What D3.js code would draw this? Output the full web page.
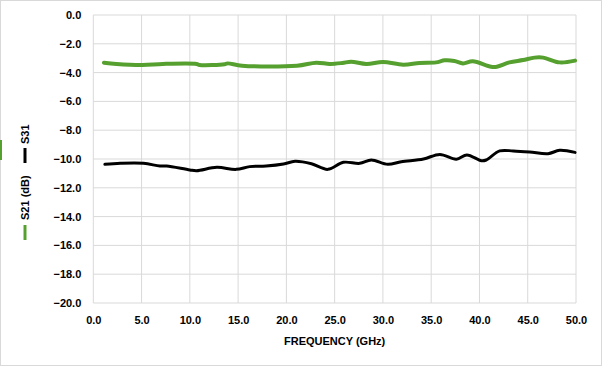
<!DOCTYPE html>
<html><head><meta charset="utf-8">
<script src="https://cdn.jsdelivr.net/npm/d3@7"></script>
<style>body{margin:0;background:#fff}svg{display:block}</style>
</head><body>
<svg id="c" width="602" height="366"></svg>
<script>
const xTicks = [0,5,10,15,20,25,30,35,40,45,50];
const yTicks = [0,-2,-4,-6,-8,-10,-12,-14,-16,-18,-20];
const s21Freq = [1.1,2.4,5.1,7.2,10.7,11.0,13.6,13.9,15.4,21.1,23.1,24.5,25.8,26.7,28.3,30.0,32.1,33.8,35.5,36.4,37.4,38.3,39.3,41.2,41.8,43.1,44.5,45.7,46.6,48.3,49.9];
const s21Val  = [-3.31,-3.40,-3.47,-3.40,-3.40,-3.47,-3.42,-3.36,-3.52,-3.52,-3.31,-3.40,-3.33,-3.24,-3.40,-3.26,-3.45,-3.33,-3.29,-3.15,-3.19,-3.36,-3.22,-3.59,-3.59,-3.29,-3.13,-2.96,-2.96,-3.29,-3.17];
const s31Freq = [1.2,2.8,5.2,6.9,7.6,10.0,10.7,12.8,14.8,16.2,17.9,19.7,20.9,22.6,24.3,25.9,27.6,28.8,30.5,31.9,34.2,35.9,37.6,38.7,40.2,40.7,42.1,43.5,45.2,47.1,48.3,49.9];
const s31Val  = [-10.37,-10.30,-10.30,-10.49,-10.49,-10.76,-10.81,-10.58,-10.72,-10.53,-10.49,-10.35,-10.16,-10.33,-10.72,-10.23,-10.30,-10.07,-10.37,-10.19,-10.00,-9.68,-10.02,-9.72,-10.12,-10.07,-9.44,-9.44,-9.51,-9.63,-9.40,-9.54];

const svg = d3.select('#c');
const W=602,H=366;
svg.append('rect').attr('x',0.5).attr('y',0.5).attr('width',W-1).attr('height',H-1).attr('fill','#fff').attr('stroke','#d9d9d9');
const L=93.3,R=576,T=15,B=303;
const x=d3.scaleLinear().domain([0,50]).range([L,R]);
const y=d3.scaleLinear().domain([-20,0]).range([B,T]);
const font="'Liberation Sans', Arial, sans-serif";

const g=svg.append('g');
g.selectAll('.vg').data(xTicks).join('line').attr('x1',d=>x(d)).attr('x2',d=>x(d)).attr('y1',T).attr('y2',B).attr('stroke','#d9d9d9').attr('stroke-width',1);
g.selectAll('.hg').data(yTicks).join('line').attr('y1',d=>y(d)).attr('y2',d=>y(d)).attr('x1',L).attr('x2',R).attr('stroke','#d9d9d9').attr('stroke-width',1);

const xa=svg.append('g').attr('transform',`translate(0,${B})`).call(d3.axisBottom(x).tickValues(xTicks).tickSize(0).tickPadding(13).tickFormat(d3.format('.1f')));
xa.select('.domain').remove();
xa.selectAll('text').attr('font-family',font).attr('font-weight','bold').attr('font-size','11px').attr('fill','#000');
const ya=svg.append('g').attr('transform',`translate(${L},0)`).call(d3.axisLeft(y).tickValues(yTicks).tickSize(0).tickPadding(12).tickFormat(d3.format('.1f')));
ya.select('.domain').remove();
ya.selectAll('text').attr('font-family',font).attr('font-weight','bold').attr('font-size','11px').attr('fill','#000');

const line=d3.line().x(d=>x(d[0])).y(d=>y(d[1])).curve(d3.curveCatmullRom);
svg.append('path').datum(s21Freq.map((f,i)=>[f,s21Val[i]])).attr('d',line).attr('fill','none').attr('stroke','#56a030').attr('stroke-width',4).attr('stroke-linecap','round');
svg.append('path').datum(s31Freq.map((f,i)=>[f,s31Val[i]])).attr('d',line).attr('fill','none').attr('stroke','#000').attr('stroke-width',3).attr('stroke-linecap','round');

svg.append('text').attr('x',(L+R)/2).attr('y',345).attr('text-anchor','middle').attr('font-family',font).attr('font-weight','bold').attr('font-size','11px').text('FREQUENCY  (GHz)');

// y title with legend keys (rotated)
const yt=svg.append('g').attr('transform','translate(29,181) rotate(-90)');
yt.append('line').attr('x1',-59).attr('x2',-44).attr('y1',-4).attr('y2',-4).attr('stroke','#56a030').attr('stroke-width',3);
yt.append('text').attr('x',-39).attr('y',0).attr('font-family',font).attr('font-weight','bold').attr('font-size','11px').text('S21 (dB)');
yt.append('line').attr('x1',18).attr('x2',33).attr('y1',-4).attr('y2',-4).attr('stroke','#000').attr('stroke-width',3);
yt.append('text').attr('x',37).attr('y',0).attr('font-family',font).attr('font-weight','bold').attr('font-size','11px').text('S31');
svg.append('rect').attr('x',0).attr('y',140).attr('width',2).attr('height',20).attr('fill','#56a030');
</script>
</body></html>
